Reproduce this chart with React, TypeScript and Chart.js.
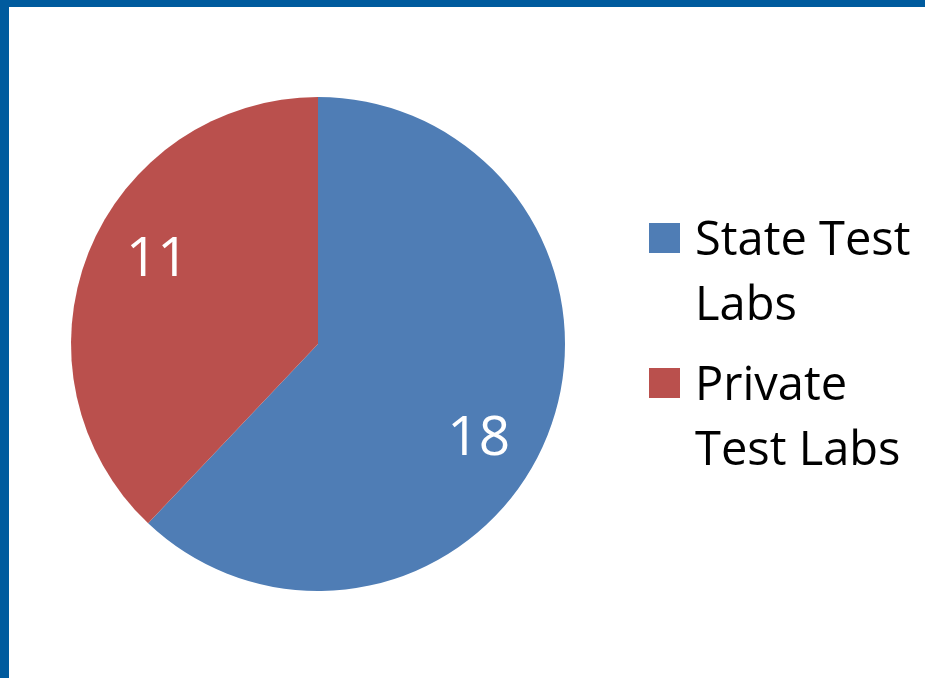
import React, { useEffect, useRef } from "react";
import { Chart, registerables } from "chart.js";

Chart.register(...registerables);

const categories: string[] = ["State Test Labs", "Private Test Labs"];
const values: number[] = [18, 11];
const colors: string[] = ["#4F7DB5", "#BA504D"];

const FONT = "'Open Sans', 'Noto Sans', sans-serif";

function wrap(ctx: CanvasRenderingContext2D, text: string, maxW: number): string[] {
  const words = text.split(" ");
  const lines: string[] = [];
  let cur = "";
  for (const w of words) {
    const t = cur ? cur + " " + w : w;
    if (cur && ctx.measureText(t).width > maxW) {
      lines.push(cur);
      cur = w;
    } else cur = t;
  }
  if (cur) lines.push(cur);
  return lines;
}

const overlayPlugin = {
  id: "overlay",
  afterDatasetsDraw(chart: any) {
    const ctx: CanvasRenderingContext2D = chart.ctx;
    const meta = chart.getDatasetMeta(0);
    const ds = chart.data.datasets[0];
    ctx.save();
    // value labels
    ctx.fillStyle = "#ffffff";
    ctx.font = `400 55px ${FONT}`;
    ctx.textAlign = "center";
    ctx.textBaseline = "middle";
    meta.data.forEach((arc: any, i: number) => {
      const p = arc.getProps(["x", "y", "startAngle", "endAngle", "outerRadius"], true);
      const mid = (p.startAngle + p.endAngle) / 2 + 0.13;
      const r = p.outerRadius * 0.745;
      ctx.fillText(String(ds.data[i]), p.x + Math.cos(mid) * r, p.y + Math.sin(mid) * r + 6);
    });
    // legend
    const ca = chart.chartArea;
    const lx = ca.right + 84;
    let y = 231;
    ctx.font = `400 47px ${FONT}`;
    ctx.textAlign = "left";
    ctx.textBaseline = "middle";
    (chart.data.labels as string[]).forEach((lab: string, i: number) => {
      ctx.fillStyle = ds.backgroundColor[i];
      ctx.fillRect(lx, y - 15, 31, 30);
      ctx.fillStyle = "#000000";
      const lines = wrap(ctx, lab, 235);
      lines.forEach((ln, j) => {
        ctx.fillText(ln, lx + 46, y + 4 + j * 65);
      });
      y += (lines.length - 1) * 65 + 80;
    });
    ctx.restore();
  },
};

export default function App() {
  const ref = useRef<HTMLCanvasElement | null>(null);
  useEffect(() => {
    document.body.style.margin = "0";
    const chart = new Chart(ref.current as HTMLCanvasElement, {
      type: "pie",
      data: {
        labels: categories,
        datasets: [
          {
            data: values,
            backgroundColor: colors,
            borderWidth: 0,
          },
        ],
      },
      options: {
        animation: false,
        responsive: false,
        maintainAspectRatio: false,
        layout: { padding: { left: 62, right: 360, top: 90, bottom: 87 } },
        plugins: {
          legend: { display: false },
          tooltip: { enabled: false },
        },
      },
      plugins: [overlayPlugin],
    });
    return () => chart.destroy();
  }, []);
  return (
    <div
      style={{
        position: "fixed",
        left: 0,
        top: 0,
        width: 925,
        height: 678,
        boxSizing: "border-box",
        borderTop: "7px solid #005B9E",
        borderLeft: "9px solid #005B9E",
        background: "#ffffff",
      }}
    >
      <canvas ref={ref} width={916} height={671} style={{ display: "block", width: 916, height: 671 }} />
    </div>
  );
}
